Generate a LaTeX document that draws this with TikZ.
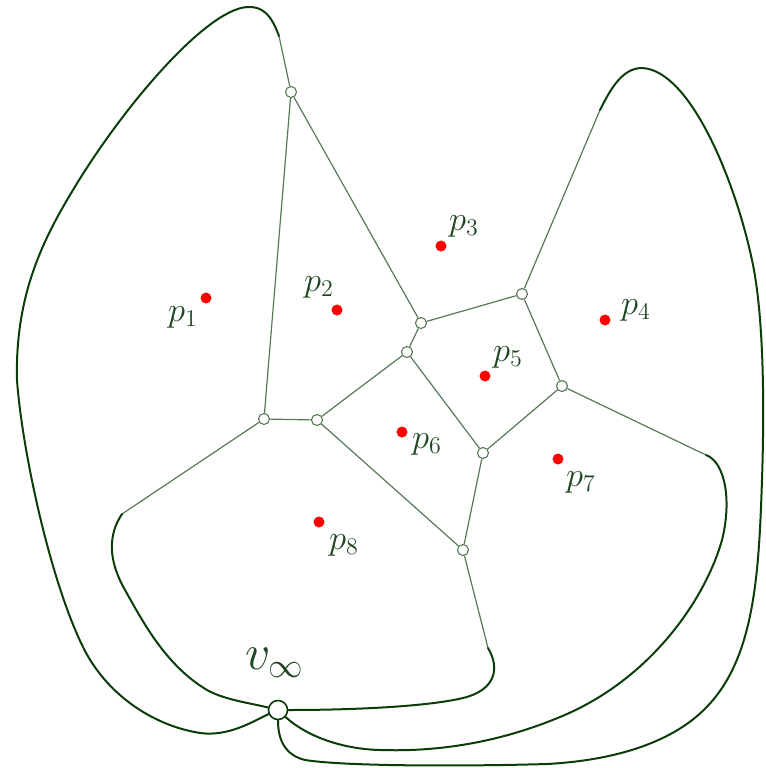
\documentclass[tikz,border=0pt]{standalone}
\usepackage{tikz}
\usetikzlibrary{backgrounds}
\definecolor{vorEdge}{HTML}{587858}
\definecolor{vorCurve}{HTML}{0B3D0B}
\definecolor{vorText}{HTML}{1E4620}
\definecolor{vorSite}{HTML}{FF0000}
\tikzset{
  vtx/.style={draw=vorEdge, fill=white, circle, inner sep=0pt, minimum size=5.5pt, line width=0.55pt},
  vinfnode/.style={draw=vorCurve, fill=white, circle, inner sep=0pt, minimum size=9.5pt, line width=0.8pt},
  site/.style={fill=vorSite, circle, inner sep=0pt, minimum size=5.5pt},
  lbl/.style={text=vorText, font=\fontsize{17}{20}\selectfont, inner sep=0pt},
  vedge/.style={draw=vorEdge, line width=0.6pt},
  vcurve/.style={draw=vorCurve, line width=1pt, line cap=round}
}

\begin{document}
\begin{tikzpicture}[x=0.5pt, y=-0.5pt]
  \useasboundingbox (0,0) rectangle (766,768);
  % Voronoi vertices
  \node[vtx] (a) at (291,92) {};
  \node[vtx] (b) at (421,323) {};
  \node[vtx] (c) at (522,294) {};
  \node[vtx] (d) at (407,352) {};
  \node[vtx] (e) at (562,386) {};
  \node[vtx] (f) at (264,419) {};
  \node[vtx] (g) at (317,420) {};
  \node[vtx] (h) at (483,453) {};
  \node[vtx] (i) at (463,550) {};
  % where the unbounded edges are cut
  \coordinate (ra) at (279,36);
  \coordinate (rc) at (600,110);
  \coordinate (re) at (706,455);
  \coordinate (rf) at (122,514);
  \coordinate (ri) at (488,648);
  % vertex at infinity
  \node[vinfnode] (vinf) at (278,710) {};
  \node[lbl, font=\fontsize{24}{28}\selectfont] (vinflbl) at (275,663) {$v_\infty$};
  % sites
  \foreach \i/\px/\py/\lx/\ly in {1/206/298/183/317, 2/337/310/319/287, 3/441/246/464/226,
      4/605/320/636/310, 5/485/376/508/357, 6/402/432/427/444, 7/558/459/581/482, 8/319/522/344/545}{
    \node[site] (p\i) at (\px,\py) {};
    \node[lbl] (l\i) at (\lx,\ly) {$p_{\i}$};
  }

  \begin{scope}[on background layer]
    \draw[vedge] (a) -- (f) (a) -- (b) (a) -- (ra)
      (b) -- (c) (b) -- (d)
      (c) -- (e) (c) -- (rc)
      (d) -- (g) (d) -- (h)
      (e) -- (h) (e) -- (re)
      (f) -- (g) (f) -- (rf)
      (g) -- (i) (h) -- (i) (i) -- (ri);
    % closing the unbounded edges at v_inf
    \draw[vcurve] (ra) .. controls (271,14) and (262,6) .. (247,7)
      .. controls (205,10) and (120,110) .. (70,195)
      .. controls (40,245) and (15,300) .. (17,380)
      .. controls (22,450) and (50,580) .. (83,647)
      .. controls (105,692) and (150,725) .. (200,733)
      .. controls (230,737) and (255,720) .. (vinf);
    \draw[vcurve] (rf) .. controls (108,535) and (108,560) .. (125,590)
      .. controls (142,620) and (165,665) .. (207,690)
      .. controls (225,700) and (250,703) .. (vinf);
    \draw[vcurve] (ri) .. controls (500,668) and (496,690) .. (463,698)
      .. controls (430,706) and (360,710) .. (vinf);
    \draw[vcurve] (re) .. controls (725,462) and (732,500) .. (722,540)
      .. controls (705,600) and (650,680) .. (560,717)
      .. controls (500,742) and (440,752) .. (380,750)
      .. controls (340,749) and (305,735) .. (vinf);
    \draw[vcurve] (rc) .. controls (610,90) and (622,68) .. (642,68)
      .. controls (690,70) and (735,180) .. (752,260)
      .. controls (765,320) and (764,420) .. (762,480)
      .. controls (759,570) and (755,650) .. (713,700)
      .. controls (680,740) and (620,760) .. (547,764)
      .. controls (480,766) and (350,767) .. (305,760)
      .. controls (285,755) and (278,740) .. (vinf.south);
  \end{scope}
\end{tikzpicture}
\end{document}
